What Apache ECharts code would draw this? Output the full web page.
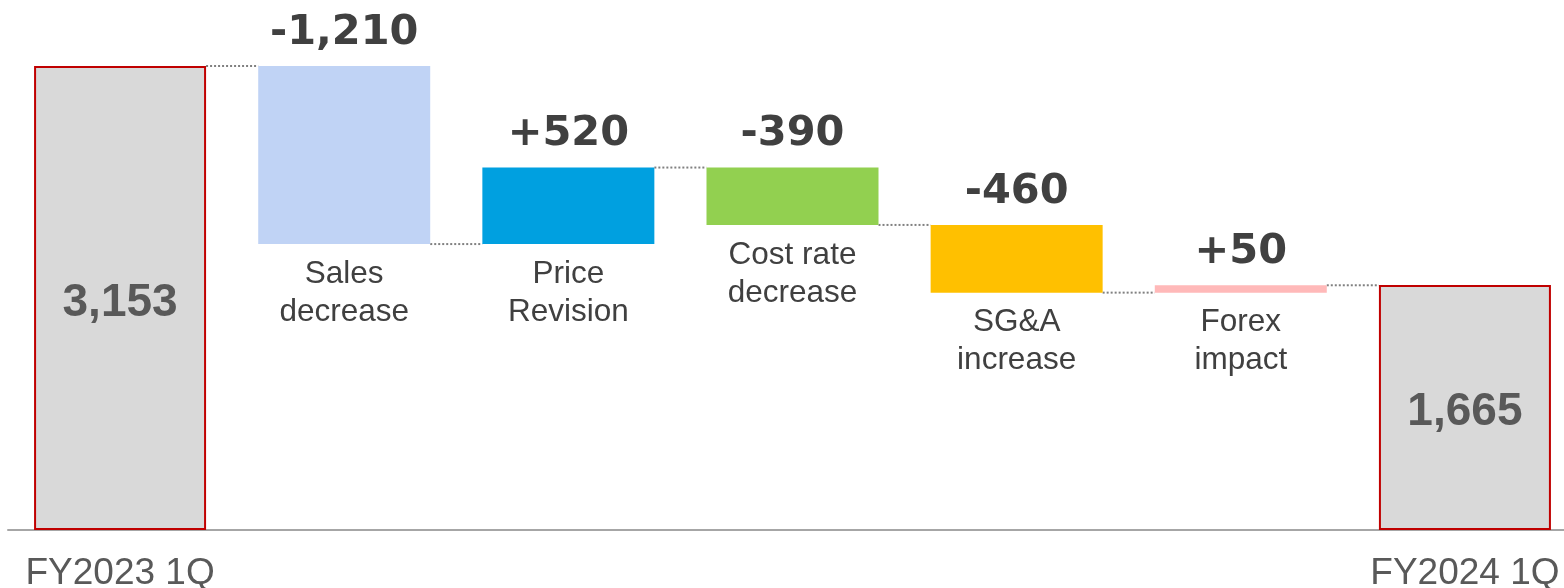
<!DOCTYPE html>
<html>
<head>
<meta charset="utf-8">
<script src="https://cdn.jsdelivr.net/npm/echarts@6/dist/echarts.min.js"></script>
<style>html,body{margin:0;padding:0;background:#fff;overflow:hidden}#c{width:1564px;height:588px}</style>
</head>
<body>
<div id="c"></div>
<script>
const categories = ['FY2023 1Q', 'Sales\ndecrease', 'Price\nRevision', 'Cost rate\ndecrease', 'SG&A\nincrease', 'Forex\nimpact', 'FY2024 1Q'];
const changes = [3153, -1210, 520, -390, -460, 50, 1665];
const valueLabels = ['3,153', '-1,210', '+520', '-390', '-460', '+50', '1,665'];
const barColors = ['#d9d9d9', '#c0d3f5', '#00a0e0', '#92d050', '#ffc000', '#ffb9b9', '#d9d9d9'];
const axisLabels = ['FY2023 1Q', '', '', '', '', '', 'FY2024 1Q'];

const last = categories.length - 1;
const bases = [], heights = [], levels = [];
let run = 0;
changes.forEach((v, i) => {
  if (i === 0 || i === last) {
    bases.push(0); heights.push(v); run = v;
  } else {
    const next = run + v;
    bases.push(Math.min(run, next));
    heights.push(Math.abs(v));
    run = next;
  }
  if (i < last) levels.push([i, run]);
});

const BAR_W = 172;
const chart = echarts.init(document.getElementById('c'));
chart.setOption({
  animation: false,
  grid: { left: 8, right: -13, top: 66, bottom: 58, containLabel: false, outerBoundsMode: 'none' },
  xAxis: {
    type: 'category',
    data: categories,
    axisLine: { lineStyle: { color: '#a6a6a6', width: 2 } },
    axisTick: { show: false },
    axisLabel: {
      formatter: (v, i) => axisLabels[i],
      interval: 0,
      margin: 25,
      fontFamily: 'Liberation Sans',
      fontSize: 37,
      color: '#595959'
    }
  },
  yAxis: { type: 'value', min: 0, max: 3153, show: false, splitLine: { show: false } },
  series: [
    {
      type: 'custom',
      z: 1,
      renderItem: (params, api) => {
        const p = api.coord([api.value(0), api.value(1)]);
        const bw = api.size([1, 0])[0];
        return {
          type: 'line',
          shape: { x1: p[0] + BAR_W / 2, y1: p[1], x2: p[0] + bw - BAR_W / 2, y2: p[1] },
          style: { stroke: '#808080', lineWidth: 2, lineDash: [2, 2] }
        };
      },
      data: levels
    },
    {
      type: 'bar',
      stack: 'w',
      barWidth: BAR_W,
      z: 2,
      itemStyle: { color: 'transparent' },
      data: bases.map((b, i) => ({
        value: b,
        label: {
          show: i !== 0 && i !== last,
          position: 'insideTop',
          distance: 11,
          formatter: () => categories[i],
          fontFamily: 'Liberation Sans',
          fontSize: 31.5,
          lineHeight: 38,
          color: '#404040'
        }
      }))
    },
    {
      type: 'bar',
      stack: 'w',
      barWidth: BAR_W,
      z: 2,
      data: heights.map((h, i) => {
        const ends = i === 0 || i === last;
        return {
          value: h,
          itemStyle: ends
            ? { color: barColors[i], borderColor: '#c00000', borderWidth: 2 }
            : { color: barColors[i] },
          label: ends
            ? { show: true, position: 'inside', offset: [0, 5], formatter: valueLabels[i], fontFamily: 'Liberation Sans', fontWeight: 'bold', fontSize: 46, color: '#595959' }
            : { show: true, position: 'top', distance: 12, formatter: valueLabels[i], fontFamily: 'DejaVu Sans', fontWeight: 'bold', fontSize: 41.5, color: '#404040' }
        };
      })
    }
  ]
});
</script>
</body>
</html>
